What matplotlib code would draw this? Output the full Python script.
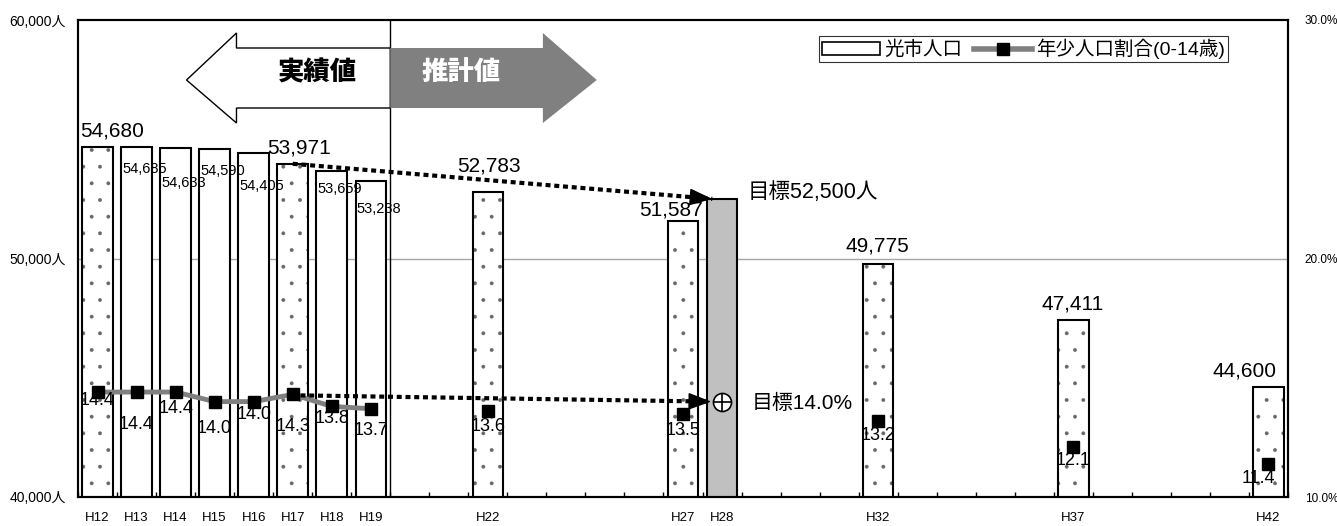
import numpy as np
from matplotlib import pyplot as plt
from matplotlib.patches import Polygon, Patch
from matplotlib.lines import Line2D

plt.rcParams['font.family'] = ['Liberation Sans', 'Noto Sans CJK JP']
plt.rcParams['hatch.linewidth'] = 0.3

# 光市人口 (平成の年度)
nendo = [12, 13, 14, 15, 16, 17, 18, 19, 22, 27, 28, 32, 37, 42]
jinko = [54680, 54685, 54633, 54590, 54405, 53971, 53659, 53238,
         52783, 51587, 52500, 49775, 47411, 44600]
# dot = 国勢調査・推計, white = 住基, target = 目標
shurui = ['dot', 'white', 'white', 'white', 'white', 'dot', 'white', 'white',
          'dot', 'dot', 'target', 'dot', 'dot', 'dot']

# 年少人口割合(0-14歳)
jisseki_nendo = [12, 13, 14, 15, 16, 17, 18, 19]
jisseki_wariai = [14.4, 14.4, 14.4, 14.0, 14.0, 14.3, 13.8, 13.7]
suikei_nendo = [22, 27, 32, 37, 42]
suikei_wariai = [13.6, 13.5, 13.2, 12.1, 11.4]
mokuhyo_nendo = 28
mokuhyo_jinko = 52500
mokuhyo_wariai = 14.0

fig = plt.figure(figsize=(13.37, 5.26), dpi=100)
ax = fig.add_axes([78/1337, 29/526, 1210/1337, 477/526])
ax2 = ax.twinx()

ax.set_xlim(11.5, 42.5)
ax.set_ylim(40000, 60000)
ax2.set_ylim(10, 30)

ax.axhline(50000, color='#a6a6a6', lw=1, zorder=0)
ax.axvline(19.5, color='black', lw=1, zorder=1)

iro = {'dot': 'white', 'white': 'white', 'target': '#c0c0c0'}
# 塗り + 点の模様 (灰色の点)
nuri = ax.bar(nendo, jinko, width=0.78, edgecolor='#666666', lw=0, zorder=2)
for b, s in zip(nuri, shurui):
    b.set_facecolor(iro[s])
    if s == 'dot':
        b.set_hatch('.')
# 黒い枠
ax.bar(nendo, jinko, width=0.78, facecolor='none', edgecolor='black', lw=1.5, zorder=2.5)

# 大きいラベル(点線の棒)と小さいラベル(白い棒)
big_dx = [15, 6, 1, -12, -1, -1, -24]
big_dy = [10, 10, 21, 5, 12, 11, 11]
small_dy = [15, 28, 15, 26, 11, 21]
i_big = 0
i_small = 0
for x, v, s in zip(nendo, jinko, shurui):
    if s == 'dot':
        ax.annotate(f'{v:,}', xy=(x, v), xytext=(big_dx[i_big], big_dy[i_big]),
                    textcoords='offset pixels', ha='center', va='baseline', fontsize=15)
        i_big += 1
    elif s == 'white':
        ax.annotate(f'{v:,}', xy=(x - 0.39, v), xytext=(1, -small_dy[i_small]),
                    textcoords='offset pixels', ha='left', va='top', fontsize=10.5)
        i_small += 1

# 実績値 / 推計値 の矢印
hidari = Polygon([(14.28, 57484), (15.56, 59455), (15.56, 58826), (19.5, 58826),
                  (19.5, 56310), (15.56, 56310), (15.56, 55681)],
                 closed=True, facecolor='white', edgecolor='black', lw=1, zorder=3)
migi = Polygon([(19.5, 58826), (23.41, 58826), (23.41, 59455), (24.79, 57484),
                (23.41, 55681), (23.41, 56310), (19.5, 56310)],
               closed=True, facecolor='#808080', edgecolor='none', zorder=3)
ax.add_patch(hidari)
ax.add_patch(migi)
ax.text(17.64, 57800, '実績値', ha='center', va='center', fontsize=19,
        fontweight='heavy', color='black', zorder=4)
ax.text(21.31, 57800, '推計値', ha='center', va='center', fontsize=19,
        fontweight='heavy', color='white', zorder=4)


def tensen_ya(a, p0, p1):
    # 点線 + 先端の矢じり
    a.plot([p0[0], p1[0]], [p0[1], p1[1]], color='black', lw=3,
           ls=(0, (1.2, 0.9)), dash_capstyle='butt', zorder=5)
    xa = p1[0] - 0.5
    ya = p1[1] + (p0[1] - p1[1]) * 0.5 / (p1[0] - p0[0])
    a.annotate('', xy=p1, xytext=(xa, ya),
               arrowprops=dict(arrowstyle='-|>,head_length=0.72,head_width=0.27',
                               lw=1, color='black',
                               mutation_scale=20, shrinkA=0, shrinkB=0),
               zorder=6)


# 目標への点線矢印
tensen_ya(ax, (17, jinko[5]), (27.75, mokuhyo_jinko))
ax.annotate('目標52,500人', xy=(mokuhyo_nendo, mokuhyo_jinko), xytext=(26, 6),
            textcoords='offset pixels', ha='left', va='center', fontsize=15.5)

# 割合の折れ線
ax2.plot(jisseki_nendo, jisseki_wariai, color='#808080', lw=3.5, marker='s',
         ms=8, mfc='black', mec='black', zorder=3)
ax2.plot(suikei_nendo, suikei_wariai, ls='none', marker='s', ms=8, color='black', zorder=3)
tensen_ya(ax2, (17.2, 14.26), (27.72, mokuhyo_wariai))
ax2.plot(mokuhyo_nendo, mokuhyo_wariai, marker='o', ms=13, mfc='white', mec='black',
         mew=1.2, zorder=7)
ax2.plot(mokuhyo_nendo, mokuhyo_wariai, marker='+', ms=13, color='black', mew=1.2, zorder=8)
ax2.annotate('目標14.0%', xy=(mokuhyo_nendo, mokuhyo_wariai), xytext=(30, -2),
             textcoords='offset pixels', ha='left', va='center', fontsize=15)

pct_dx = [0, 0, 0, 0, 0, 0, 0, 0, 0, 0, 0, 0, -10]
pct_dy = [8, 32, 16, 27, 13, 32, 12, 22, 15, 17, 15, 14, 15]
for x, v, dx, dy in zip(jisseki_nendo + suikei_nendo, jisseki_wariai + suikei_wariai,
                        pct_dx, pct_dy):
    ax2.annotate(f'{v:.1f}', xy=(x, v), xytext=(dx, -dy), textcoords='offset pixels',
                 ha='center', va='center', fontsize=13, zorder=6)

# 軸
ax.set_xticks(nendo)
ax.set_xticklabels([f'H{n}' for n in nendo])
ax.set_xticks(np.arange(11.5, 43, 1), minor=True)
ax.tick_params(axis='x', which='major', length=0, pad=11, labelsize=9.5)
ax.tick_params(axis='x', which='minor', direction='in', length=3.5, width=1)
ax.set_yticks([40000, 50000, 60000])
ax.set_yticklabels([f'{v:,}人' for v in [40000, 50000, 60000]])
ax.tick_params(axis='y', length=0, pad=9, labelsize=10)
ax2.set_yticks([10, 20, 30])
ax2.set_yticklabels([f'{v:.1f}%' for v in [10, 20, 30]])
ax2.tick_params(axis='y', length=0, pad=12, labelsize=8.5)
for a in (ax, ax2):
    for sp in a.spines.values():
        sp.set_linewidth(1.5)

handles = [Patch(facecolor='white', edgecolor='black', lw=1.2),
           Line2D([], [], color='#808080', lw=4, marker='s', ms=8, mfc='black', mec='black')]
leg = ax2.legend(handles, ['光市人口', '年少人口割合(0-14歳)'], ncol=2, fontsize=14,
                 loc='upper right', bbox_to_anchor=(0.9504, 0.9665), frameon=True,
                 fancybox=False, edgecolor='black', borderpad=0.15, handlelength=3,
                 handletextpad=0.2, columnspacing=0.6, borderaxespad=0)
leg.get_frame().set_linewidth(0.8)

fig.savefig('out.png', dpi=100)
